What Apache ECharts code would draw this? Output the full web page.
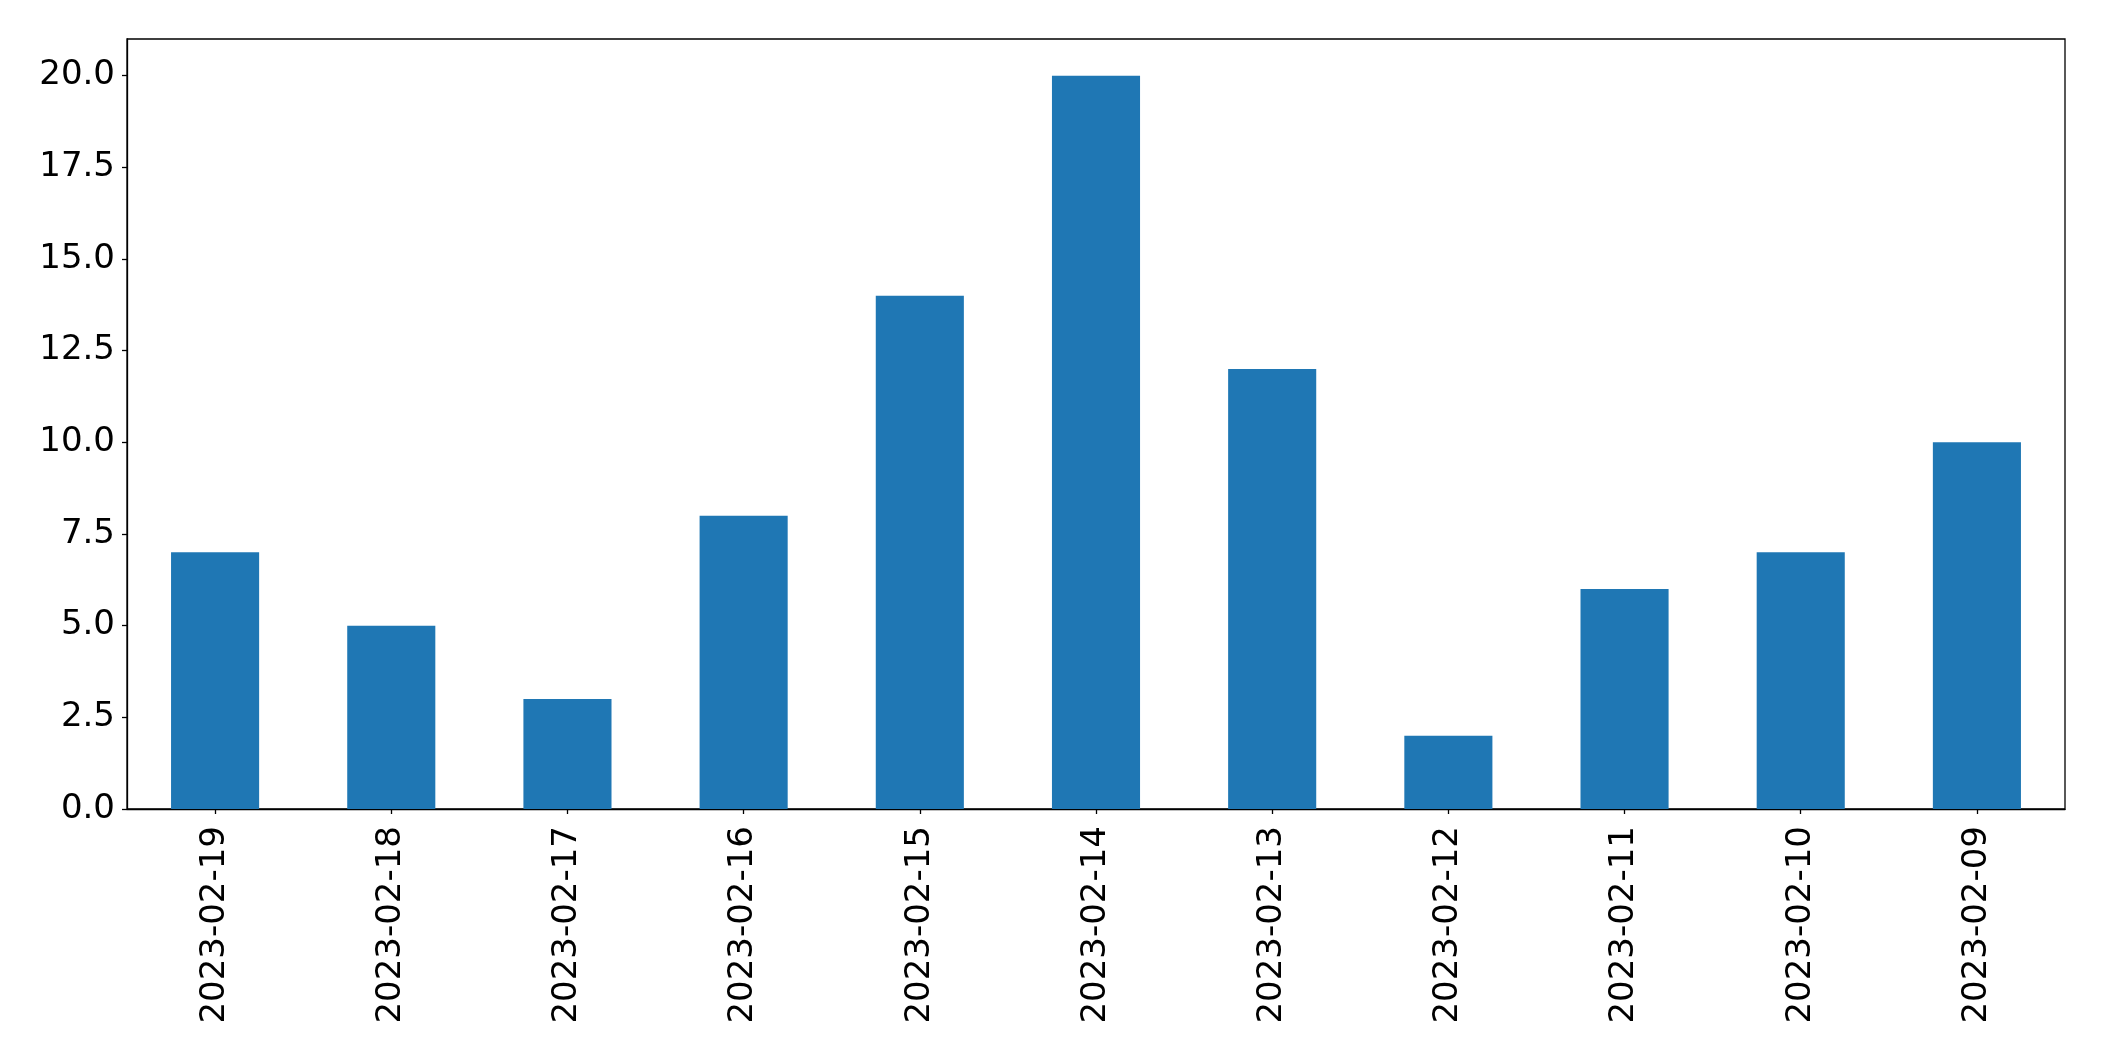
<!DOCTYPE html>
<html><head><meta charset="utf-8">
<script src="https://cdn.jsdelivr.net/npm/echarts@6/dist/echarts.min.js"></script>
<style>html,body{margin:0;padding:0;background:#fff}#c{width:2104px;height:1061px}</style>
</head><body><div id="c"></div>
<script>
const categories = ["2023-02-19","2023-02-18","2023-02-17","2023-02-16","2023-02-15","2023-02-14","2023-02-13","2023-02-12","2023-02-11","2023-02-10","2023-02-09"];
const values = [7,5,3,8,14,20,12,2,6,7,10];
const yTicks = [0,2.5,5,7.5,10,12.5,15,17.5,20];

const chart = echarts.init(document.getElementById('c'), null, {renderer:'canvas'});
const font = 'DejaVu Sans';
chart.setOption({
  animation:false,
  grid:{left:127,right:39,top:39,bottom:252,show:true,borderColor:'#000',borderWidth:1.3,backgroundColor:'transparent'},
  xAxis:{type:'category',data:categories,boundaryGap:true,
    axisLine:{show:true,lineStyle:{color:'#000',width:1.3}},
    axisTick:{show:true,alignWithLabel:true,length:5,lineStyle:{color:'#000',width:1.3}},
    axisLabel:{rotate:90,interval:0,margin:17,color:'#000',fontFamily:font,fontSize:34},
    splitLine:{show:false}},
  yAxis:{type:'value',min:0,max:21,interval:2.5,
    axisLine:{show:true,lineStyle:{color:'#000',width:1.3}},
    axisTick:{show:true,length:5,customValues:yTicks,lineStyle:{color:'#000',width:1.3}},
    axisLabel:{customValues:yTicks,margin:12,color:'#000',fontFamily:font,fontSize:34,formatter:v=>v.toFixed(1)},
    splitLine:{show:false}},
  series:[{type:'bar',data:values,barWidth:'50%',itemStyle:{color:'#1f77b4'}}]
});
</script></body></html>
